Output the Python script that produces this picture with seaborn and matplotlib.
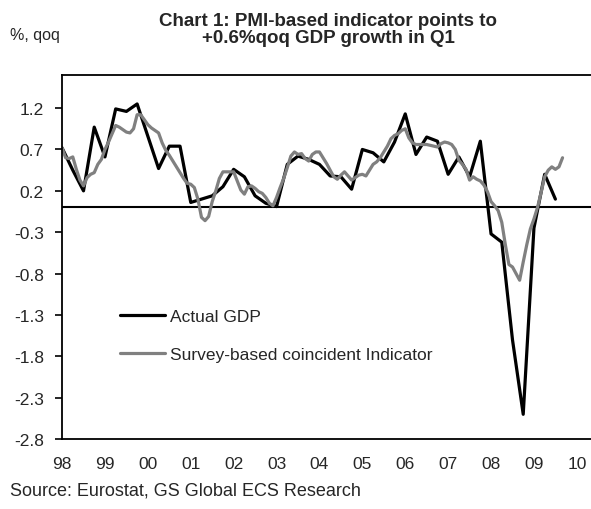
import numpy as np
import pandas as pd
import matplotlib
matplotlib.use("Agg")
import matplotlib.pyplot as plt
import seaborn as sns

# ---- data ----
# actual GDP, % qoq, quarterly from 1998Q1
gdp_start = 1998.0
gdp = [0.72, 0.45, 0.20, 0.97, 0.61, 1.19, 1.16, 1.25, 0.86, 0.47, 0.74, 0.74,
       0.06, 0.10, 0.14, 0.25, 0.46, 0.37, 0.14, 0.05, 0.01, 0.52, 0.62, 0.58,
       0.52, 0.38, 0.37, 0.22, 0.70, 0.66, 0.55, 0.79, 1.13, 0.64, 0.85, 0.80,
       0.40, 0.61, 0.37, 0.80, -0.32, -0.42, -1.60, -2.50, -0.25, 0.40, 0.10]

# survey-based coincident indicator, monthly from Jan 1998
survey_start = 1998.0
survey = [0.72, 0.60, 0.59, 0.61, 0.46, 0.33, 0.26, 0.36, 0.40, 0.42, 0.52, 0.58,
          0.70, 0.79, 0.89, 0.99, 0.97, 0.94, 0.91, 0.90, 0.95, 1.12, 1.12, 1.06,
          1.00, 0.96, 0.93, 0.90, 0.78, 0.69, 0.63, 0.56, 0.49, 0.42, 0.35, 0.29,
          0.28, 0.24, 0.10, -0.12, -0.16, -0.11, 0.07, 0.20, 0.35, 0.43, 0.43, 0.43,
          0.43, 0.32, 0.21, 0.16, 0.25, 0.26, 0.23, 0.19, 0.17, 0.12, 0.05, 0.02,
          0.12, 0.24, 0.35, 0.48, 0.62, 0.67, 0.64, 0.65, 0.59, 0.56, 0.64, 0.67,
          0.67, 0.60, 0.53, 0.45, 0.37, 0.34, 0.39, 0.43, 0.38, 0.33, 0.36, 0.39,
          0.40, 0.38, 0.45, 0.52, 0.55, 0.60, 0.67, 0.74, 0.83, 0.87, 0.89, 0.93,
          0.95, 0.84, 0.78, 0.76, 0.76, 0.76, 0.76, 0.75, 0.74, 0.73, 0.77, 0.79,
          0.78, 0.76, 0.70, 0.57, 0.52, 0.46, 0.33, 0.37, 0.34, 0.32, 0.27, 0.19,
          0.07, 0.02, -0.04, -0.18, -0.45, -0.69, -0.72, -0.80, -0.88, -0.66, -0.45, -0.26,
          -0.14, 0.00, 0.18, 0.37, 0.45, 0.49, 0.46, 0.49, 0.60]

year_ticks = list(range(1998, 2011))
year_labels = [f"{y % 100:02d}" for y in year_ticks]
y_ticks = [-2.8, -2.3, -1.8, -1.3, -0.8, -0.3, 0.2, 0.7, 1.2]

df_gdp = pd.DataFrame({"t": gdp_start + np.arange(len(gdp)) / 4, "v": gdp})
df_srv = pd.DataFrame({"t": survey_start + np.arange(len(survey)) / 12, "v": survey})

# ---- plot ----
sns.set_style("white")
plt.rcParams["font.family"] = ["Liberation Sans", "DejaVu Sans"]

fig = plt.figure(figsize=(5.91, 5.10), dpi=100)
ax = fig.add_axes([0.105, 0.137, 0.895, 0.714])

sns.lineplot(data=df_gdp, x="t", y="v", ax=ax, color="black", lw=2.3,
             label="Actual GDP")
sns.lineplot(data=df_srv, x="t", y="v", ax=ax, color="#808080", lw=2.3,
             label="Survey-based coincident Indicator")
ax.axhline(0, color="black", lw=1.5, zorder=1)

ax.set_xlim(1998.0, 2010.33)
ax.set_ylim(-2.8, 1.6)
ax.set_xticks(year_ticks)
ax.set_xticklabels(year_labels)
ax.set_yticks(y_ticks)
ax.set_yticklabels([f"{v:.1f}" for v in y_ticks])
ax.set_xlabel("")
ax.set_ylabel("")
ax.tick_params(axis="x", length=0, labelsize=12.5, pad=12)
ax.tick_params(axis="y", length=5, width=1.2, color="black", labelsize=12.5,
               direction="out", left=True, pad=8)

for s in ["top", "left", "bottom"]:
    ax.spines[s].set_visible(True)
    ax.spines[s].set_color("black")
    ax.spines[s].set_linewidth(1.3)
ax.spines["right"].set_visible(False)

ax.legend(loc="center left", bbox_to_anchor=(0.11, 0.285), frameon=False,
          fontsize=12.5, handlelength=2.6, handletextpad=0.25, labelspacing=1.35,
          borderpad=0, borderaxespad=0)

fig.text(0.555, 0.975, "Chart 1: PMI-based indicator points to\n+0.6%qoq GDP growth in Q1",
         ha="center", va="top", fontsize=13.5, fontweight="bold", linespacing=1.05)
fig.text(0.017, 0.931, "%, qoq", ha="left", va="center", fontsize=11.5)
fig.text(0.017, 0.038, "Source: Eurostat, GS Global ECS Research", ha="left",
         va="center", fontsize=13)

fig.savefig("out.png", dpi=100)
